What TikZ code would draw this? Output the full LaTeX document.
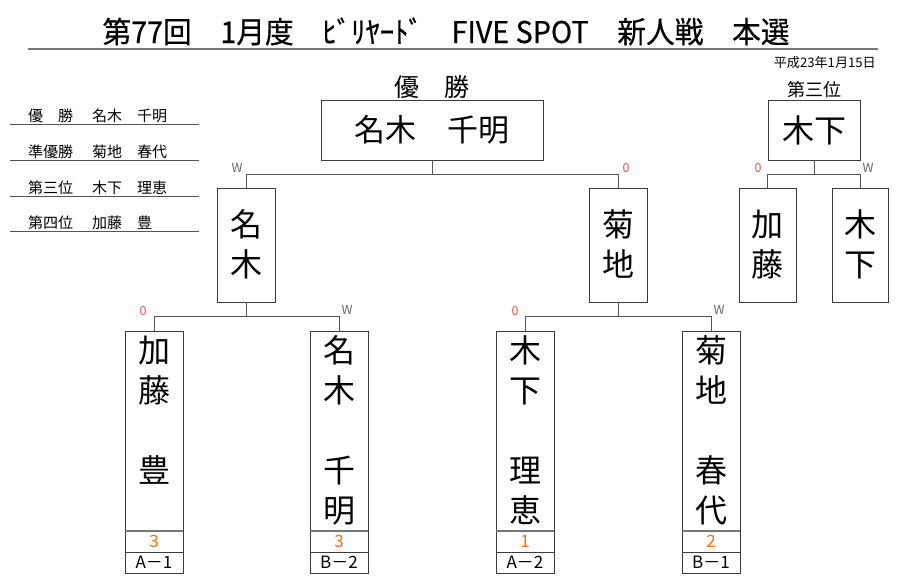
\documentclass[tikz,border=0pt]{standalone}
\usepackage{graphicx}
\usepackage{fontspec}
\setmainfont{Noto Sans CJK JP}
\newfontfamily\titlefont[FakeBold=0.5]{Noto Sans CJK JP}
\definecolor{boxc}{HTML}{3C3C3C}
\definecolor{connc}{HTML}{555555}
\definecolor{rulec}{HTML}{777777}
\definecolor{wgray}{HTML}{666666}
\definecolor{zred}{HTML}{FF4A4A}
\definecolor{scoreor}{HTML}{FF6A10}
\newcommand\zs{\rule[-4pt]{0pt}{28pt}}
\begin{document}
\begin{tikzpicture}[x=1pt,y=-1pt,
  box/.style={draw=boxc, line width=0.9pt, inner sep=0pt, align=center},
  vt/.style={font=\fontsize{32}{40}\selectfont},
  hz/.style={font=\fontsize{31}{31}\selectfont},
  conn/.style={draw=connc, line width=1pt},
  wl/.style={font=\fontsize{12.5}{12.5}\selectfont, text=wgray, inner sep=0pt},
  zl/.style={font=\fontsize{12.5}{12.5}\selectfont, text=zred, inner sep=0pt},
  lst/.style={font=\fontsize{15}{15}\selectfont, inner sep=0pt, anchor=base west},
  lstline/.style={draw=connc, line width=0.9pt},
  score/.style={box, minimum width=58pt, minimum height=21pt, font=\fontsize{17}{17}\selectfont, text=scoreor},
  lab/.style={box, minimum width=58pt, minimum height=21pt, font=\fontsize{17}{17}\selectfont}
]
\useasboundingbox (0,0) rectangle (900,587);
\fill[white] (0,0) rectangle (900,587);

% title
\node[anchor=base, inner sep=0pt] (title) at (446,43)
  {\resizebox{687pt}{25.5pt}{\titlefont\fontsize{29}{29}\selectfont 第77回　1月度　ﾋﾞﾘﾔｰﾄﾞ　FIVE SPOT　新人戦　本選}};
\coordinate (r1) at (28,49);
\coordinate (r2) at (878,49);
\draw[draw=rulec, line width=2.5pt] (r1) -- (r2);
\node[anchor=base east, inner sep=0pt, font=\fontsize{12.5}{12.5}\selectfont] (date) at (876,67) {\resizebox{102pt}{!}{平成23年1月15日}};

% list
\node[lst] (l1a) at (28,121) {優　勝};
\node[lst] (l1b) at (92,121) {名木　千明};
\node[lst] (l2a) at (28,157) {準優勝};
\node[lst] (l2b) at (92,157) {菊地　春代};
\node[lst] (l3a) at (28,193) {第三位};
\node[lst] (l3b) at (92,193) {木下　理恵};
\node[lst] (l4a) at (28,228) {第四位};
\node[lst] (l4b) at (92,228) {加藤　豊};
\draw[lstline] (10,124) -- (199,124);
\draw[lstline] (10,160) -- (199,160);
\draw[lstline] (10,196) -- (199,196);
\draw[lstline] (10,231) -- (199,231);

% champion
\node[font=\fontsize{25}{25}\selectfont, inner sep=0pt] (champlab) at (432,87) {優　勝};
\node[box, hz, minimum width=222pt, minimum height=60pt] (champ) at (432,130) {名木　千明};
\node[box, vt, minimum width=58pt, minimum height=114pt] (sA) at (246,245) {\zs 名\\\zs 木};
\node[box, vt, minimum width=58pt, minimum height=114pt] (sB) at (618,245) {\zs 菊\\\zs 地};
\path (champ.south) ++(0,14) coordinate (j1);
\draw[conn] (champ.south) -- (j1);
\draw[conn] (sA.north) |- (j1) -| (sB.north);
\node[wl] (wA) at (237,168) {W};
\node[zl] (zB) at (626,168) {0};

% first round
\node[box, vt, minimum width=58pt, minimum height=200pt] (n1) at (154,431) {\zs 加\\\zs 藤\\\zs\\\zs 豊\\\zs};
\node[box, vt, minimum width=58pt, minimum height=200pt] (n2) at (339,431) {\zs 名\\\zs 木\\\zs\\\zs 千\\\zs 明};
\node[box, vt, minimum width=58pt, minimum height=200pt] (n3) at (525,431) {\zs 木\\\zs 下\\\zs\\\zs 理\\\zs 恵};
\node[box, vt, minimum width=58pt, minimum height=200pt] (n4) at (711,431) {\zs 菊\\\zs 地\\\zs\\\zs 春\\\zs 代};
\node[score] (s1) at (154,541.5) {3};
\node[score] (s2) at (339,541.5) {3};
\node[score] (s3) at (525,541.5) {1};
\node[score] (s4) at (711,541.5) {2};
\node[lab] (b1) at (154,562.5) {A－1};
\node[lab] (b2) at (339,562.5) {B－2};
\node[lab] (b3) at (525,562.5) {A－2};
\node[lab] (b4) at (711,562.5) {B－1};
\foreach \i in {1,2,3,4}{
  \draw[draw=rulec, line width=2pt] (n\i.south west) -- (n\i.south east);
}
\path (sA.south) ++(0,14) coordinate (j2);
\path (sB.south) ++(0,14) coordinate (j3);
\draw[conn] (sA.south) -- (j2);
\draw[conn] (n1.north) |- (j2) -| (n2.north);
\draw[conn] (sB.south) -- (j3);
\draw[conn] (n3.north) |- (j3) -| (n4.north);
\node[zl] (z1) at (143,311) {0};
\node[wl] (w2) at (347,310) {W};
\node[zl] (z3) at (515,311) {0};
\node[wl] (w4) at (719,310) {W};

% third place
\node[font=\fontsize{18}{18}\selectfont, inner sep=0pt] (thirdlab) at (814,90) {第三位};
\node[box, hz, font=\fontsize{32}{32}\selectfont, minimum width=92pt, minimum height=60pt] (third) at (814,130) {木下};
\node[box, vt, minimum width=57pt, minimum height=114pt] (tA) at (767.5,245) {\zs 加\\\zs 藤};
\node[box, vt, minimum width=56pt, minimum height=114pt] (tB) at (860,245) {\zs 木\\\zs 下};
\path (third.south) ++(0,14) coordinate (j4);
\draw[conn] (third.south) -- (j4);
\draw[conn] (tA.north) |- (j4) -| (tB.north);
\node[zl] (zT) at (758,168) {0};
\node[wl] (wT) at (868,168) {W};
\end{tikzpicture}
\end{document}
